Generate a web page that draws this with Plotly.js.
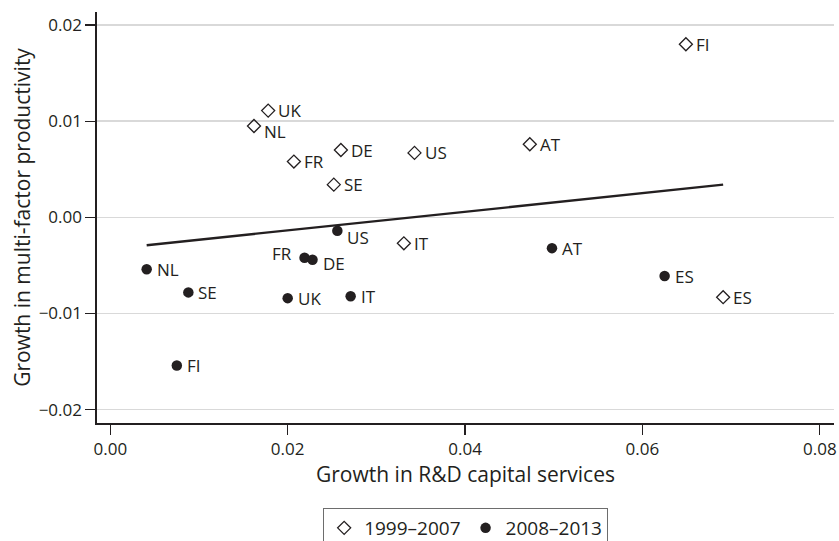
<!DOCTYPE html>
<html>
<head>
<meta charset="utf-8">
<script src="https://cdn.plot.ly/plotly-3.0.1.min.js"></script>
<style>
  html, body { margin: 0; padding: 0; background: #fff; }
  #chart { width: 839px; height: 541px; }
</style>
</head>
<body>
<div id="chart"></div>
<script>
// Country codes for each period
const countriesEarly = ['FI', 'UK', 'NL', 'DE', 'FR', 'SE', 'US', 'AT', 'IT', 'ES'];
// Growth in R&D capital services, 1999–2007
const rdEarly = [0.0649, 0.0178, 0.0162, 0.0260, 0.0207, 0.0252, 0.0343, 0.0473, 0.0331, 0.0691];
// Growth in multi-factor productivity, 1999–2007
const mfpEarly = [0.0180, 0.0111, 0.0095, 0.0070, 0.0058, 0.0034, 0.0067, 0.0076, -0.0027, -0.0083];

const countriesLate = ['US', 'FR', 'DE', 'NL', 'AT', 'ES', 'SE', 'UK', 'IT', 'FI'];
// Growth in R&D capital services, 2008–2013
const rdLate = [0.0256, 0.0219, 0.0228, 0.0041, 0.0498, 0.0625, 0.0088, 0.0200, 0.0271, 0.0075];
// Growth in multi-factor productivity, 2008–2013
const mfpLate = [-0.0014, -0.0042, -0.0044, -0.0054, -0.0032, -0.0061, -0.0078, -0.0084, -0.0082, -0.0154];

// Fitted line through the pooled sample (end points)
const fitX = [0.0041, 0.0691];
const fitY = [-0.0029, 0.0034];

const periodNames = ['1999–2007', '2008–2013'];

// Pixel nudges for labels that sit off the default right-hand spot
const labelNudge = {
  'early-NL': { dy: -6 },
  'late-US': { dy: -7 },
  'late-DE': { dy: -4 },
  'late-FR': { dx: -19, dy: 4, side: 'right' }
};

const ink = '#231f20';
const fontFamily = '"Open Sans", "Noto Sans", sans-serif';

const traces = [
  {
    x: rdEarly, y: mfpEarly, mode: 'markers', type: 'scatter',
    name: periodNames[0],
    marker: { symbol: 'diamond-open', size: 10, color: ink, line: { width: 1.3, color: ink } },
    hoverinfo: 'skip'
  },
  {
    x: rdLate, y: mfpLate, mode: 'markers', type: 'scatter',
    name: periodNames[1],
    marker: { symbol: 'circle', size: 10.5, color: ink, line: { width: 0 } },
    hoverinfo: 'skip'
  },
  {
    x: fitX, y: fitY, mode: 'lines', type: 'scatter',
    showlegend: false,
    line: { color: ink, width: 2.3 },
    hoverinfo: 'skip'
  }
];

function makeLabels(xs, ys, names, key) {
  return names.map((c, i) => {
    const n = labelNudge[key + '-' + c] || {};
    const right = n.side === 'right';
    return {
      x: xs[i], y: ys[i], xref: 'x', yref: 'y',
      text: c, showarrow: false,
      xanchor: right ? 'right' : 'left', yanchor: 'middle',
      xshift: (n.dx !== undefined ? n.dx : 0) + 8,
      yshift: n.dy || 0,
      font: { family: fontFamily, size: 17, color: ink }
    };
  });
}

const annotations = makeLabels(rdEarly, mfpEarly, countriesEarly, 'early')
  .concat(makeLabels(rdLate, mfpLate, countriesLate, 'late'));

const layout = {
  width: 839, height: 541,
  margin: { l: 97, r: 5, t: 12, b: 118, pad: 0 },
  paper_bgcolor: '#fff', plot_bgcolor: '#fff',
  font: { family: fontFamily, size: 17, color: ink },
  showlegend: true,
  legend: {
    orientation: 'h',
    xref: 'container', yref: 'container',
    x: 0.555, xanchor: 'center', y: 0.061, yanchor: 'top',
    bordercolor: '#6d6d6d', borderwidth: 1, bgcolor: '#fff',
    font: { family: fontFamily, size: 19, color: ink },
    itemwidth: 30
  },
  xaxis: {
    range: [-0.0015, 0.0816],
    tickvals: [0, 0.02, 0.04, 0.06, 0.08],
    tickformat: '.2f',
    ticks: 'outside', ticklen: 10, tickwidth: 1.2, tickcolor: ink,
    showgrid: false, zeroline: false,
    showline: true, linecolor: ink, linewidth: 1.6,
    tickfont: { family: fontFamily, size: 17, color: ink },
    title: { text: 'Growth in R&D capital services', standoff: 6,
             font: { family: fontFamily, size: 21, color: ink } },
    automargin: false, fixedrange: true
  },
  yaxis: {
    range: [-0.02138, 0.02135],
    tickvals: [-0.02, -0.01, 0, 0.01, 0.02],
    tickformat: '.2f',
    ticks: 'outside', ticklen: 10, tickwidth: 1.2, tickcolor: ink,
    showgrid: true, gridcolor: '#d9d9d9', gridwidth: 1.4,
    zeroline: false,
    showline: true, linecolor: ink, linewidth: 1.6,
    tickfont: { family: fontFamily, size: 17, color: ink },
    title: { text: 'Growth in multi-factor productivity', standoff: 2,
             font: { family: fontFamily, size: 21, color: ink } },
    automargin: false, fixedrange: true
  },
  annotations: annotations
};

Plotly.newPlot('chart', traces, layout, { displayModeBar: false, staticPlot: true });
</script>
</body>
</html>
